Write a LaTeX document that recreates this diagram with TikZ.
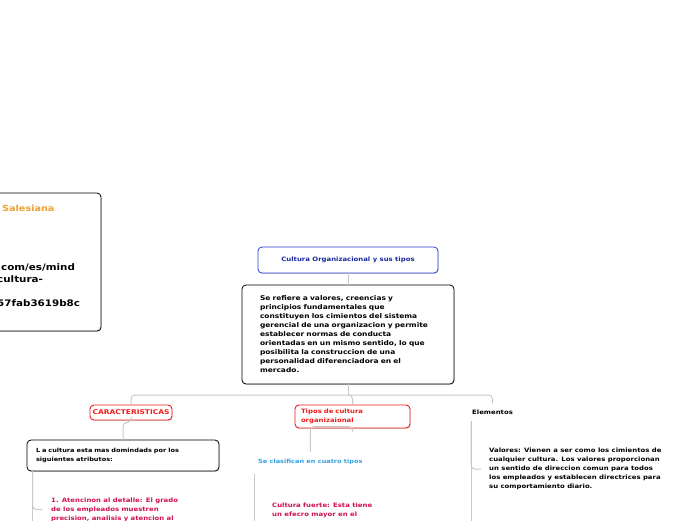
\documentclass[tikz,border=0pt]{standalone}
\usepackage{fontspec}
\setmainfont{DejaVu Sans}[FakeStretch=1.15]
\usetikzlibrary{positioning,calc,shadows}

\definecolor{mapblue}{HTML}{2A3FD0}
\definecolor{mapnavy}{HTML}{1A2AA0}
\definecolor{mapred}{HTML}{EE1C1C}
\definecolor{mapcrimson}{HTML}{D0104C}
\definecolor{mapsky}{HTML}{33A0E0}
\definecolor{maporange}{HTML}{F0A030}
\definecolor{mapline}{HTML}{C8C8C8}

\begin{document}
\begin{tikzpicture}[x=1pt,y=-1pt,
	every node/.style={font=\fontsize{6}{9}\selectfont\bfseries},
	small/.style={font=\fontsize{5.7}{9}\selectfont\bfseries},
	box/.style={draw,rounded corners=4pt,fill=white,line width=0.8pt,
		drop shadow={opacity=0.35,shadow xshift=0.6pt,shadow yshift=-0.9pt}},
	redbox/.style={box,draw=mapred,text=mapred,line width=0.9pt},
	conn/.style={draw=mapline,line width=1pt,rounded corners=4pt}]
	
	\useasboundingbox (0,0) rectangle (696,520);
	
	% left box, partly cut off
	\node[box,minimum width=121,minimum height=138,inner sep=0pt] (src) at (40.5,262) {};
	\node[anchor=base west,inner sep=0pt,text=maporange,font=\fontsize{8.4}{11}\selectfont\bfseries] (uni) at (2,211.5) {Salesiana};
	\node[anchor=north west,align=left,inner sep=0pt,font=\fontsize{9}{12}\selectfont\bfseries] (url) at (-3,263) {.com/es/mind\\cultura-\\[12pt]57fab3619b8c};
	
	% main topic
	\node[box,draw=mapblue,text=mapnavy,minimum width=180,minimum height=26] (title) at (348,260) {Cultura Organizacional y sus tipos};
	\node[box,minimum width=212,minimum height=99,text width=176,align=left,inner sep=0pt,font=\fontsize{6.5}{9}\selectfont\bfseries] (desc) at (348,334.5) {Se refiere a valores, creencias y\\principios fundamentales que\\constituyen los cimientos del sistema\\gerencial de una organizacion y permite\\establecer normas de conducta\\orientadas en un mismo sentido, lo que\\posibilita la construccion de una\\personalidad diferenciadora en el\\mercado.};
	
	% branches
	\node[redbox,minimum width=82,minimum height=15,inner sep=0pt,font=\fontsize{6.5}{9}\selectfont\bfseries] (carac) at (131,412.5) {CARACTERISTICAS};
	\node[redbox,minimum width=115,minimum height=23,text width=103,align=left,inner sep=0pt] (tipos) at (352.5,416.5) {Tipos de cultura\\organizaional};
	\node[anchor=west,inner sep=0pt] (elem) at (472,412) {Elementos};
	
	\node[box,small,minimum width=192,minimum height=31,text width=174,align=left,inner sep=0pt] (lcult) at (123,455.5) {L a cultura esta mas domindads por los\\siguientes atributos:};
	\node[small,anchor=west,text=mapsky,inner sep=0pt] (clas) at (258,461.5) {Se clasifican en cuatro tipos};
	
	\node[anchor=north west,align=left,text=mapcrimson,inner xsep=9pt,inner ysep=0pt] (aten) at (42,497.5) {1. Atencinon al detalle: El grado\\de los empleados muestren\\precision, analisis y atencion al};
	\node[anchor=north west,align=left,text=mapcrimson,inner xsep=9pt,inner ysep=0pt] (fuerte) at (263,502.5) {Cultura fuerte: Esta tiene\\un efecro mayor en el};
	\node[anchor=north west,align=left,inner xsep=8pt,inner ysep=0pt] (valor) at (481,448) {Valores: Vienen a ser como los cimientos de\\cualquier cultura. Los valores proporcionan\\un sentido de direccion comun para todos\\los empleados y establecen directrices para\\su comportamiento diario.};
	
	\coordinate (hub) at (348,395);
	
	\draw[conn] (title) -- (desc);
	\draw[conn] (desc) -- (hub);
	\draw[conn] (hub) -| (carac);
	\draw[conn] (hub) -| (tipos);
	\draw[conn] (hub) -| ([yshift=6pt]elem.north);
	\draw[conn] (carac) -- ++(0,10) -| (lcult);
	\draw[conn] (tipos) -- ++(0,10) -| ([yshift=7pt]clas.north);
	
	\draw[conn,rounded corners=0pt] ([xshift=6pt]lcult.south west) -- ++(0,60);
	\draw[conn] ([xshift=6pt]lcult.south west) |- (aten.west);
	\draw[conn,rounded corners=0pt] (254,474) -- ++(0,60);
	\draw[conn,rounded corners=0pt] (471,421) -- ++(0,110);
	\draw[conn] (471,421) |- (valor.west);
	
\end{tikzpicture}
\end{document}
